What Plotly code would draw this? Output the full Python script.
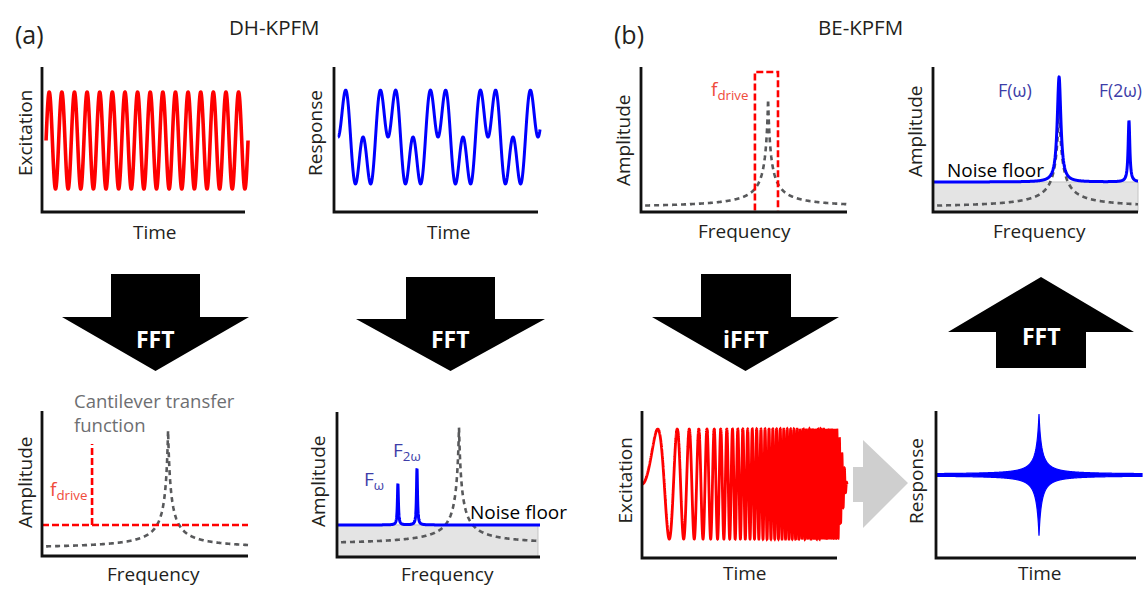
import numpy as np
import plotly.graph_objects as go

W, H = 1143, 593
FONT = "Open Sans"

# ---------------- data (normalised to each panel: x 0..1 along the time/frequency axis, y 0..1 up the axis)
# (a) top-left: excitation sine
exc_cycles = 16
exc_span = [0.02, 1.015]
exc_level = [0.493, 0.334]          # centre, amplitude

# (a) top-right: response (fundamental + 3rd harmonic)
resp_harmonics = [1, 3]
resp_weights = [1.0, 1.0]
resp_span = [0.02, 1.01]
resp_period = 0.245
resp_phase0 = 90                     # degrees
resp_level = [0.517, 0.21]           # centre, scale

# (b) top-left: cantilever transfer function + drive band
b1_tf = [0.028, 0.617, 0.752, 0.0136]       # base, f0, height, width
b1_band = [0.553, 0.665, 0.966]             # f_lo, f_hi, top

# (b) top-right: FFT of response
b2_floor = 0.207
b2_tf = [0.028, 0.615, 0.745, 0.0136]
b2_peak_f = [0.615, 0.956]
b2_peak_h = [0.724, 0.421]
b2_peak_w = [0.0108, 0.005]

# (a) bottom-left: drive spectrum + transfer function
a3_drive_level = 0.214
a3_drive_f = 0.243
a3_drive_top = 0.772
a3_tf = [0.048, 0.612, 0.821, 0.0136]

# (a) bottom-right: response spectrum
a4_floor = 0.221
a4_tf = [0.083, 0.601, 0.814, 0.0138]
a4_peak_f = [0.300, 0.394]
a4_peak_h = [0.282, 0.386]
a4_peak_w = [0.003, 0.003]

# (b) bottom-left: chirp excitation
chirp_cycles = 38.3                 # cycles reached at t = 1 (quadratic phase)
chirp_span = [0.0, 1.051]
chirp_taper_start = 1.005
chirp_level = [0.503, 0.374]

# (b) bottom-right: response burst
burst_span = [0.005, 1.03]
burst_center_t = 0.515
burst_level = [0.565, 0.41]          # centre, peak envelope
burst_width = 0.018
burst_power = 1.4
burst_floor = 0.006

# ---------------- panel geometry (pixels): axis x, axis end x, axis top y, axis bottom y
panels = [
    (42, 245, 67, 212),    # 1 A excitation
    (334, 538, 67, 212),   # 2 A response
    (641, 847, 67, 212),   # 3 B amplitude
    (933, 1138, 67, 212),  # 4 B amplitude
    (42, 248, 411, 556),   # 5 A amplitude
    (337, 540, 412, 557),  # 6 A amplitude
    (642, 837, 411, 558),  # 7 B excitation
    (936, 1136, 411, 558), # 8 B response
]

RED = "#ff0000"
BLUE = "#0000ff"
GRAYD = "#58595b"
FILLG = "#e4e4e4"
LRED = "#ef4b3c"
LBLUE = "#3d3da8"
TXT = "#231f20"

fig = go.Figure()
layout = dict(width=W, height=H, margin=dict(l=0, r=0, t=0, b=0), autosize=False,
              paper_bgcolor="white", plot_bgcolor="rgba(0,0,0,0)", showlegend=False,
              shapes=[], annotations=[])

PAD = 16
for i, (x0, x1, yt, yb) in enumerate(panels, start=1):
    w = x1 - x0
    h = yb - yt
    dl = max(0, x0 - PAD); dr = min(W, x1 + PAD)
    dt = max(0, yt - PAD); db = min(H, yb + PAD)
    xs = "" if i == 1 else str(i)
    layout["xaxis" + xs] = dict(domain=[dl / W, dr / W], range=[(dl - x0) / w, (dr - x0) / w],
                               visible=False, fixedrange=True, anchor="y" + xs)
    layout["yaxis" + xs] = dict(domain=[1 - db / H, 1 - dt / H], range=[(yb - db) / h, (yb - dt) / h],
                               visible=False, fixedrange=True, anchor="x" + xs)
    layout["shapes"].append(dict(type="path", xref="paper", yref="paper",
                                 path=f"M {x0/W},{1-yt/H} L {x0/W},{1-yb/H} L {x1/W},{1-yb/H}",
                                 line=dict(color="#111111", width=2.8), layer="above"))


def ax(i):
    s = "" if i == 1 else str(i)
    return dict(xaxis="x" + s, yaxis="y" + s)


def line(i, x, y, color, width, dash=None, **kw):
    fig.add_trace(go.Scatter(x=x, y=y, mode="lines", hoverinfo="skip",
                             line=dict(color=color, width=width, dash=dash, simplify=False), **ax(i), **kw))


def resonance(f, p):
    base, f0, hgt, wid = p
    return base + hgt / (1 + np.abs(f - f0) / wid)


def peaks(f, floor, pf, ph, pw):
    y = np.full_like(f, floor)
    for a, b, c in zip(pf, ph, pw):
        y = y + b / (1 + ((f - a) / c) ** 2)
    return y


GDASH = "5px,4px"
RDASH = "7px,3px"

# 1: excitation
t = np.linspace(exc_span[0], exc_span[1], 3000)
line(1, t, exc_level[0] + exc_level[1] * np.sin(2 * np.pi * exc_cycles * (t - exc_span[0]) / (exc_span[1] - exc_span[0])), RED, 3.6)

# 2: response
t = np.linspace(resp_span[0], resp_span[1], 2000)
th = np.deg2rad(resp_phase0) + 2 * np.pi * (t - resp_span[0]) / resp_period
yr = sum(wt * np.sin(k * th) for k, wt in zip(resp_harmonics, resp_weights))
line(2, t, resp_level[0] + resp_level[1] * yr, BLUE, 3)

# 3: BE drive band + transfer function
f = np.linspace(0.02, 1.0, 4001)
line(3, f, resonance(f, b1_tf), GRAYD, 2.6, GDASH)
line(3, [b1_band[0], b1_band[0], b1_band[1], b1_band[1]], [0.01, b1_band[2], b1_band[2], 0.01], RED, 2.6, RDASH)

# 4: BE response spectrum
fig.add_trace(go.Scatter(x=[0, 1.0, 1.0, 0], y=[0, 0, b2_floor, b2_floor], mode="lines", fill="toself",
                         fillcolor=FILLG, line=dict(color="#c4c4c4", width=1), hoverinfo="skip", **ax(4)))
line(4, f, resonance(f, b2_tf), GRAYD, 2.6, GDASH)
f4 = np.linspace(0.0, 1.0, 4000)
line(4, f4, peaks(f4, b2_floor, b2_peak_f, b2_peak_h, b2_peak_w), BLUE, 3)

# 5: DH drive spectrum + transfer function
line(5, f, resonance(f, a3_tf), GRAYD, 2.6, GDASH)
line(5, [0.0, 1.0], [a3_drive_level, a3_drive_level], RED, 2.6, RDASH)
line(5, [a3_drive_f, a3_drive_f], [a3_drive_level, a3_drive_top], RED, 2.6, RDASH)

# 6: DH response spectrum
fig.add_trace(go.Scatter(x=[0, 0.99, 0.99, 0], y=[0, 0, a4_floor, a4_floor], mode="lines", fill="toself",
                         fillcolor=FILLG, line=dict(color="#c4c4c4", width=1), hoverinfo="skip", **ax(6)))
line(6, f, resonance(f, a4_tf), GRAYD, 2.6, GDASH)
f6 = np.linspace(0.0, 1.0, 6000)
line(6, f6, peaks(f6, a4_floor, a4_peak_f, a4_peak_h, a4_peak_w), BLUE, 3)

# 7: chirp
t = np.linspace(chirp_span[0], chirp_span[1], 12000)
env = np.clip((chirp_span[1] - t) / (chirp_span[1] - chirp_taper_start), 0, 1)
line(7, t, chirp_level[0] + chirp_level[1] * env * np.sin(2 * np.pi * chirp_cycles * t ** 2), RED, 2.8)

# 8: response burst
t = np.linspace(burst_span[0], burst_span[1], 4000)
e = burst_level[1] / (1 + np.abs(t - burst_center_t) / burst_width) ** burst_power + burst_floor
fig.add_trace(go.Scatter(x=np.concatenate([t, t[::-1]]),
                         y=np.concatenate([burst_level[0] + e, (burst_level[0] - e)[::-1]]),
                         mode="lines", fill="toself", fillcolor=BLUE,
                         line=dict(color=BLUE, width=1.2, simplify=False),
                         hoverinfo="skip", **ax(8)))


# ---------------- arrows
def P(x, y):
    return f"{x/W},{1-y/H}"


def down_arrow(sx0, sx1, stop, wx0, wx1, wy, tipy):
    cx = (wx0 + wx1) / 2
    return ("M " + P(sx0, stop) + " L " + P(sx1, stop) + " L " + P(sx1, wy) + " L " + P(wx1, wy) +
            " L " + P(cx, tipy) + " L " + P(wx0, wy) + " L " + P(sx0, wy) + " Z")


arrows = [
    down_arrow(111, 200, 274, 62, 249, 317, 371),
    down_arrow(406, 495, 277, 356, 545, 319, 371),
    down_arrow(701, 791, 274, 652, 839, 317, 371),
    ("M " + P(1041, 277) + " L " + P(1134, 332) + " L " + P(1086, 332) + " L " + P(1086, 368) +
     " L " + P(996, 368) + " L " + P(996, 332) + " L " + P(948, 332) + " Z"),
]
for pth in arrows:
    layout["shapes"].append(dict(type="path", xref="paper", yref="paper", path=pth,
                                 fillcolor="black", line=dict(width=0)))
layout["shapes"].append(dict(type="path", xref="paper", yref="paper",
                             path="M " + P(853, 467) + " L " + P(863, 467) + " L " + P(863, 440) + " L " +
                                  P(908, 483) + " L " + P(863, 528) + " L " + P(863, 502) + " L " + P(853, 502) + " Z",
                             fillcolor="#cfcfcf", line=dict(width=0), layer="below"))


def ann(text, x, y, size=19, color=TXT, xa="center", ya="middle", angle=0, bold=False, align="center"):
    txt = f"<b>{text}</b>" if bold else text
    layout["annotations"].append(dict(text=txt, x=x / W, y=1 - y / H, xref="paper", yref="paper",
                                      xanchor=xa, yanchor=ya, showarrow=False, textangle=angle, align=align,
                                      font=dict(family=FONT, size=size, color=color)))


for x, y, s in [(155.5, 339, "FFT"), (450.5, 339, "FFT"), (746, 339, "iFFT"), (1041, 336, "FFT")]:
    ann(s, x, y, size=23, color="white", bold=True)

ann("(a)", 29.5, 34, size=25)
ann("(b)", 628.5, 34, size=25)
ann("DH-KPFM", 274, 27, size=20.5)
ann("BE-KPFM", 860, 27, size=20.5)

# axis labels
for x, y, s in [(25, 133, "Excitation"), (315, 133, "Response"), (623, 140, "Amplitude"), (915, 131, "Amplitude"),
                (25, 482, "Amplitude"), (318, 481, "Amplitude"), (624.5, 481, "Excitation"), (916, 481, "Response")]:
    ann(s, x, y, size=19, angle=-90)
for x, y, s in [(155, 232, "Time"), (449, 232, "Time"), (744, 231, "Frequency"), (1039, 231, "Frequency"),
                (153, 574, "Frequency"), (447.5, 574, "Frequency"), (745, 573, "Time"), (1040, 573, "Time")]:
    ann(s, x, y, size=19)

# in-panel labels
ann("f<sub>drive</sub>", 750, 90, size=19, color=LRED, xa="right")
ann("f<sub>drive</sub>", 89, 490, size=19, color=LRED, xa="right")
ann("Cantilever transfer<br>function", 72, 412, size=18.5, color="#6d6e71", xa="left", align="left")
ann("F(ω)", 1015, 90, size=18, color=LBLUE)
ann("F(2ω)", 1120.5, 90, size=17.5, color=LBLUE)
ann("Noise floor", 995, 170, size=19, color="black")
ann("Noise floor", 518, 512, size=19, color="black")
ann("F<sub>ω</sub>", 362, 480, size=19, color=LBLUE, xa="left")
ann("F<sub>2ω</sub>", 391, 451, size=19, color=LBLUE, xa="left")

fig.update_layout(**layout)
fig.write_html("out.html")
